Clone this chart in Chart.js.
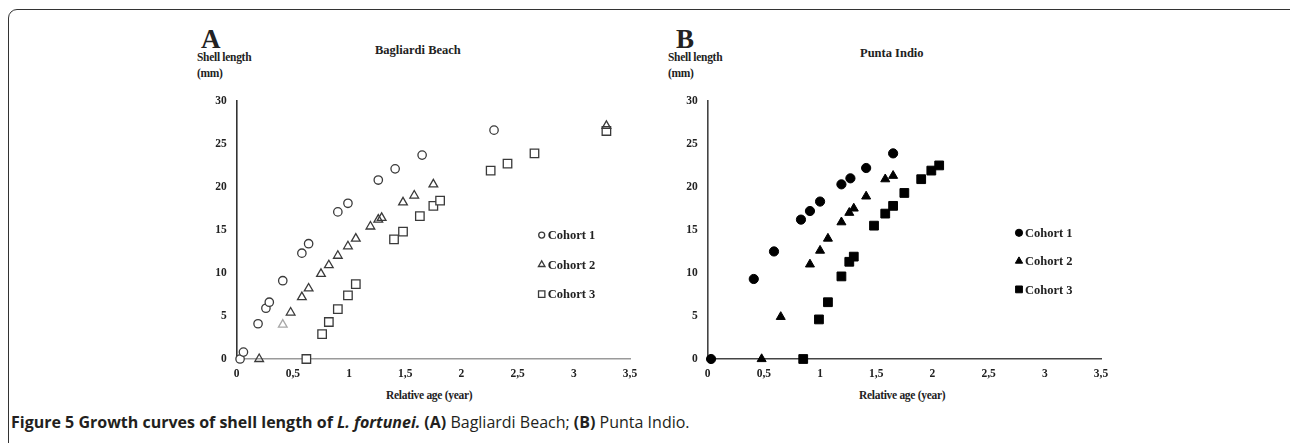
<!DOCTYPE html>
<html lang="en">
<head>
  <meta charset="UTF-8">
  <title>Growth curves of shell length of L. fortunei</title>
  <script src="https://cdn.jsdelivr.net/npm/chart.js"></script>
  <style>
    html, body { margin: 0; padding: 0; background: #fff; }
    body { width: 1290px; height: 443px; position: relative; overflow: hidden; font-family: "Liberation Serif", serif; color: #222; }
    .frame { position: absolute; left: 8px; top: 9px; width: 1300px; height: 460px; border: 1.5px solid #333; border-radius: 9px; box-sizing: border-box; }
    .lbl { position: absolute; font-weight: bold; white-space: nowrap; line-height: 1; }
    .big { font-size: 27px; }
    .ax { font-size: 11.5px; letter-spacing: -0.3px; }
    .ttl { font-size: 12.5px; }
    canvas { position: absolute; }
    .caption { position: absolute; left: 11px; top: 411px; font-family: "Open Sans", sans-serif; font-size: 16px; white-space: nowrap; color: #231f20; letter-spacing: 0; }
  </style>
</head>
<body>
  <div class="frame"></div>

  <div class="lbl big" style="left:201px; top:26px;">A</div>
  <div class="lbl ax" style="left:197px; top:52px;">Shell length</div>
  <div class="lbl ax" style="left:197px; top:68px;">(mm)</div>
  <div class="lbl ttl" style="left:375px; top:44px;">Bagliardi Beach</div>
  <div class="lbl ax" style="left:386px; top:390px;">Relative age (year)</div>

  <div class="lbl big" style="left:676px; top:26px;">B</div>
  <div class="lbl ax" style="left:668px; top:52px;">Shell length</div>
  <div class="lbl ax" style="left:668px; top:68px;">(mm)</div>
  <div class="lbl ttl" style="left:860px; top:47px;">Punta Indio</div>
  <div class="lbl ax" style="left:859px; top:390px;">Relative age (year)</div>

  <canvas id="chartA" width="470" height="300" style="left:180px; top:84px; width:470px; height:300px;"></canvas>
  <canvas id="chartB" width="470" height="300" style="left:651px; top:84px; width:470px; height:300px;"></canvas>

  <div class="caption"><b>Figure 5 Growth curves of shell length of <i>L. fortunei.</i> (A)</b> Bagliardi Beach; <b>(B)</b> Punta Indio.</div>

  <script>
    // Bagliardi Beach (A): relative age (year) / shell length (mm)
    const a1Age = [0.03, 0.06, 0.19, 0.26, 0.29, 0.41, 0.58, 0.64, 0.90, 0.99, 1.26, 1.41, 1.65, 2.29];
    const a1Len = [0, 0.8, 4.1, 5.9, 6.6, 9.1, 12.3, 13.4, 17.1, 18.1, 20.8, 22.1, 23.7, 26.6];
    const a2Age = [0.20, 0.41, 0.48, 0.58, 0.64, 0.75, 0.82, 0.90, 0.99, 1.06, 1.19, 1.26, 1.29, 1.48, 1.58, 1.75, 3.29];
    const a2Len = [0, 4.0, 5.4, 7.2, 8.2, 9.9, 10.9, 12.0, 13.1, 14.0, 15.4, 16.2, 16.4, 18.2, 19.0, 20.3, 27.1];
    const a3Age = [0.62, 0.76, 0.82, 0.90, 0.99, 1.06, 1.40, 1.48, 1.63, 1.75, 1.81, 2.26, 2.41, 2.65, 3.29];
    const a3Len = [0, 2.9, 4.3, 5.8, 7.4, 8.7, 13.9, 14.8, 16.6, 17.8, 18.4, 21.9, 22.7, 23.9, 26.5];

    // Punta Indio (B)
    const b1Age = [0.03, 0.41, 0.59, 0.83, 0.91, 1.00, 1.19, 1.27, 1.41, 1.65];
    const b1Len = [0, 9.3, 12.5, 16.2, 17.2, 18.3, 20.3, 21.0, 22.2, 23.9];
    const b2Age = [0.48, 0.65, 0.91, 1.00, 1.07, 1.19, 1.26, 1.30, 1.41, 1.58, 1.65];
    const b2Len = [0, 4.9, 11.0, 12.6, 14.0, 15.9, 17.0, 17.5, 18.9, 20.9, 21.3];
    const b3Age = [0.85, 0.99, 1.07, 1.19, 1.26, 1.30, 1.48, 1.58, 1.65, 1.75, 1.90, 1.99, 2.06];
    const b3Len = [0, 4.6, 6.6, 9.6, 11.3, 11.9, 15.5, 16.9, 17.8, 19.3, 20.9, 21.9, 22.5];

    const cohortNames = ['Cohort 1', 'Cohort 2', 'Cohort 3'];
    const xTicks = [0, 0.5, 1, 1.5, 2, 2.5, 3, 3.5];
    const yTicks = [0, 5, 10, 15, 20, 25, 30];

    const toPoints = (xs, ys) => xs.map((x, i) => ({ x: x, y: ys[i] }));
    const tickFont = { family: 'Liberation Serif', size: 11.5, weight: 'bold' };

    // small legend drawn inside the plot, like the original
    const insideLegend = {
      id: 'insideLegend',
      afterDraw(chart, args, opts) {
        const ctx = chart.ctx, area = chart.chartArea;
        const x0 = area.left + opts.x * (area.right - area.left);
        let y = area.top + opts.y * (area.bottom - area.top);
        ctx.save();
        chart.data.datasets.forEach((ds) => {
          ctx.fillStyle = ds.legendFill;
          ctx.strokeStyle = ds.legendStroke;
          ctx.lineWidth = ds.pointBorderWidth;
          Chart.helpers.drawPoint(ctx, { pointStyle: ds.pointStyle, radius: ds.legendRadius, borderWidth: ds.pointBorderWidth, rotation: 0 }, x0, y);
          ctx.fillStyle = '#222';
          ctx.font = 'bold 12.5px "Liberation Serif"';
          ctx.textBaseline = 'middle';
          ctx.textAlign = 'left';
          ctx.fillText(ds.label, x0 + 6, y + 1);
          y += opts.gap;
        });
        ctx.restore();
      }
    };

    function makeChart(id, sets, xBorder, yBorder, legendPos) {
      return new Chart(document.getElementById(id), {
        type: 'scatter',
        data: { datasets: sets },
        options: {
          responsive: false,
          animation: false,
          layout: { padding: { top: 10, right: 20, left: 0, bottom: 0 } },
          plugins: {
            legend: { display: false },
            tooltip: { enabled: false },
            insideLegend: legendPos
          },
          scales: {
            x: {
              type: 'linear', min: 0, max: 3.5,
              afterBuildTicks: (s) => { s.ticks = xTicks.map(v => ({ value: v })); },
              afterFit: (s) => { s.height = 25; },
              grid: { display: false, drawTicks: false },
              border: { display: true, color: xBorder, width: 1.6 },
              ticks: { font: tickFont, color: '#222', padding: 8, callback: v => String(v).replace('.', ',') }
            },
            y: {
              type: 'linear', min: 0, max: 30,
              afterBuildTicks: (s) => { s.ticks = yTicks.map(v => ({ value: v })); },
              afterFit: (s) => { s.width = 56.7; },
              grid: { display: false, drawTicks: false },
              border: { display: true, color: yBorder, width: 1.6 },
              ticks: { font: tickFont, color: '#222', padding: 10 }
            }
          }
        },
        plugins: [insideLegend]
      });
    }

    const dark = '#3a3a3a';
    makeChart('chartA', [
      { label: cohortNames[0], data: toPoints(a1Age, a1Len), pointStyle: 'circle', pointRadius: 4.2, pointBorderWidth: 1.3,
        pointBorderColor: dark, pointBackgroundColor: '#fff', clip: false, legendRadius: 3, legendFill: '#fff', legendStroke: dark },
      { label: cohortNames[1], data: toPoints(a2Age, a2Len), pointStyle: 'triangle', pointRadius: 5, pointBorderWidth: 1.3,
        pointBorderColor: (c) => c.dataIndex === 1 ? '#a8a8a8' : dark, pointBackgroundColor: 'rgba(255,255,255,0)', clip: false,
        legendRadius: 3.8, legendFill: '#fff', legendStroke: dark },
      { label: cohortNames[2], data: toPoints(a3Age, a3Len), pointStyle: 'rect', pointRadius: 6, pointBorderWidth: 1.3,
        pointBorderColor: dark, pointBackgroundColor: '#fff', clip: false, legendRadius: 4.5, legendFill: '#fff', legendStroke: dark }
    ], '#9a9a9a', '#333', { x: 0.7755, y: 0.52, gap: 29.5 });

    makeChart('chartB', [
      { label: cohortNames[0], data: toPoints(b1Age, b1Len), pointStyle: 'circle', pointRadius: 4.6, pointBorderWidth: 1,
        pointBorderColor: '#000', pointBackgroundColor: '#000', clip: false, legendRadius: 3.6, legendFill: '#000', legendStroke: '#000' },
      { label: cohortNames[1], data: toPoints(b2Age, b2Len), pointStyle: 'triangle', pointRadius: 5.2, pointBorderWidth: 1,
        pointBorderColor: '#000', pointBackgroundColor: '#000', clip: false, legendRadius: 4.2, legendFill: '#000', legendStroke: '#000' },
      { label: cohortNames[2], data: toPoints(b3Age, b3Len), pointStyle: 'rect', pointRadius: 6.2, pointBorderWidth: 1,
        pointBorderColor: '#000', pointBackgroundColor: '#000', clip: false, legendRadius: 4.8, legendFill: '#000', legendStroke: '#000' }
    ], '#444', '#444', { x: 0.7915, y: 0.511, gap: 28.3 });
  </script>
</body>
</html>
